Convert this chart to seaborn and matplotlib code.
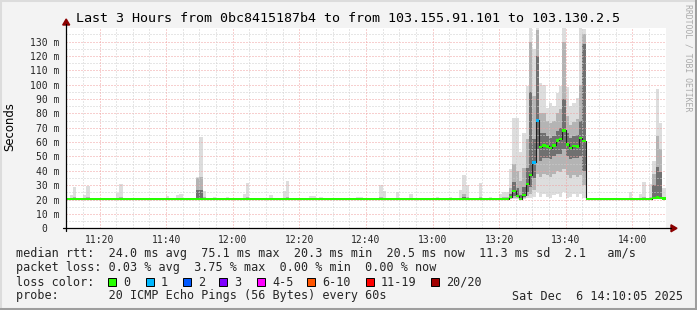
import numpy as np
import matplotlib
matplotlib.use("Agg")
import matplotlib.pyplot as plt
import seaborn as sns
from matplotlib.patches import Rectangle, Polygon
from matplotlib.lines import Line2D

# ------------------------------------------------------------------ data
title = "Last 3 Hours from 0bc8415187b4 to from 103.155.91.101 to 103.130.2.5"
n_bins = 180                      # one-minute bins, 11:10 -> 14:10
x_tick_minutes = [10, 30, 50, 70, 90, 110, 130, 150, 170]
x_tick_labels = ["11:20", "11:40", "12:00", "12:20", "12:40",
                 "13:00", "13:20", "13:40", "14:00"]
y_tick_values = [0, 10, 20, 30, 40, 50, 60, 70, 80, 90, 100, 110, 120, 130]
y_tick_labels = ["0  ", "10 m", "20 m", "30 m", "40 m", "50 m", "60 m",
                 "70 m", "80 m", "90 m", "100 m", "110 m", "120 m", "130 m"]

# quiet baseline (ms)
base_median = 20.5
base_min, base_p10, base_p25, base_p75, base_p90, base_max = 20.3, 20.4, 20.5, 20.7, 20.8, 21.0

# isolated smoke spikes in the quiet periods
spike_minute = [1, 2, 5, 6, 15, 16, 30, 33, 34, 39, 40, 41, 44, 48, 51, 53, 54, 56, 60, 61,
                65, 66, 73, 74, 76, 87, 88, 94, 95, 99, 103, 111, 115, 118, 119, 120, 124,
                127, 169, 172, 173, 175]
spike_max = [23.2, 28.5, 23.0, 29.4, 24.8, 30.6, 22.2, 23.0, 24.0, 36.0, 63.5, 26.0, 21.5,
             21.5, 21.3, 23.6, 31.5, 21.3, 21.3, 23.0, 25.7, 32.9, 22.3, 22.3, 22.0, 22.0,
             22.0, 30.0, 26.0, 25.0, 24.0, 22.0, 22.0, 27.0, 37.0, 30.0, 31.8, 21.5, 25.3,
             24.0, 32.0, 31.0]
spike_p90 = [21.0, 21.5, 21.0, 21.5, 21.0, 21.5, 21.0, 21.0, 21.0, 35.0, 36.0, 22.0, 21.0,
             21.0, 21.0, 21.0, 22.0, 21.0, 21.0, 21.0, 21.0, 22.0, 21.0, 21.0, 21.0, 21.0,
             21.0, 22.0, 21.0, 21.0, 21.0, 21.0, 21.0, 21.0, 24.0, 22.0, 22.0, 21.0, 21.0,
             21.0, 22.0, 22.0]
spike_p75 = [20.8, 20.8, 20.8, 20.8, 20.8, 20.8, 20.8, 20.8, 20.8, 27.0, 27.0, 21.0, 20.8,
             20.8, 20.8, 20.8, 21.0, 20.8, 20.8, 20.8, 20.8, 21.0, 20.8, 20.8, 20.8, 20.8,
             20.8, 21.0, 20.8, 20.8, 20.8, 20.8, 20.8, 20.8, 21.5, 21.0, 21.0, 20.8, 20.8,
             20.8, 21.0, 21.0]

# disturbed period 13:20 .. 13:46 (minutes 130..155)
busy_start = 130
busy_median = [20.5, 20.5, 20.6, 21.6, 25.9, 22.5, 20.6, 23.0, 30.8, 37.3, 45.8, 75.1, 56.5,
               57.7, 57.0, 56.1, 57.7, 61.2, 62.1, 68.1, 58.4, 55.8, 57.5, 57.0, 62.8, 60.7]
busy_min = [20.3, 20.3, 20.3, 20.4, 20.5, 20.5, 20.3, 20.5, 21.0, 21.0, 22.0, 25.0, 22.0,
            24.0, 22.0, 21.0, 23.0, 24.0, 22.0, 25.0, 21.0, 22.0, 24.0, 22.0, 24.0, 21.0]
busy_p10 = [20.4, 20.4, 20.4, 20.6, 21.0, 20.8, 20.4, 21.0, 22.5, 24.0, 27.0, 38.0, 36.0,
            38.0, 37.0, 36.0, 38.0, 40.0, 39.0, 41.0, 37.0, 35.0, 37.0, 36.0, 37.0, 30.0]
busy_p25 = [20.5, 20.5, 20.5, 21.0, 22.5, 21.5, 20.5, 21.8, 25.0, 29.0, 35.0, 55.0, 47.0,
            49.0, 49.0, 48.0, 50.0, 52.0, 52.0, 55.0, 50.0, 48.0, 49.0, 49.0, 50.0, 40.0]
busy_p75 = [20.7, 20.8, 21.0, 24.0, 32.0, 28.0, 23.0, 29.0, 42.0, 95.0, 62.0, 120.0, 66.0,
            66.0, 64.0, 63.0, 64.0, 68.0, 70.0, 90.0, 66.0, 63.0, 64.0, 65.0, 75.0, 128.0]
busy_p90 = [21.0, 21.5, 22.0, 28.0, 45.0, 40.0, 33.0, 42.0, 62.0, 130.0, 92.0, 138.0, 80.0,
            80.0, 75.0, 73.0, 75.0, 80.0, 83.0, 130.0, 78.0, 72.0, 74.0, 76.0, 100.0, 135.0]
busy_max = [24.0, 25.0, 25.0, 41.0, 77.0, 77.0, 53.0, 66.0, 99.0, 140.0, 125.0, 140.0, 101.0,
            100.0, 84.0, 87.0, 85.0, 94.0, 99.0, 140.0, 98.0, 85.0, 87.0, 91.0, 140.0, 139.0]
busy_loss = [0, 0, 0, 0, 0, 0, 0, 0, 0, 0, 1, 1, 0, 0, 0, 0, 0, 0, 0, 0, 0, 0, 0, 0, 0, 0]

# last minutes 14:06 .. 14:10 (minutes 176..179)
tail_start = 176
tail_median = [21.0, 21.5, 21.3, 20.8]
tail_min = [20.4, 20.4, 20.4, 20.3]
tail_p10 = [20.6, 20.7, 20.6, 20.4]
tail_p25 = [20.8, 21.0, 20.9, 20.5]
tail_p75 = [30.0, 43.0, 39.0, 21.0]
tail_p90 = [38.0, 64.0, 55.0, 22.0]
tail_max = [47.0, 97.0, 73.0, 28.0]

loss_labels = ["0", "1", "2", "3", "4-5", "6-10", "11-19", "20/20"]
loss_colors = ["#26ff00", "#00b8ff", "#0059ff", "#7e00ff", "#ff00ff", "#ff5500", "#ff0000", "#a10000"]

median_line = "median rtt:  24.0 ms avg  75.1 ms max  20.3 ms min  20.5 ms now  11.3 ms sd  2.1   am/s"
loss_line = "packet loss: 0.03 % avg  3.75 % max  0.00 % min  0.00 % now"
probe_line = "probe:       20 ICMP Echo Pings (56 Bytes) every 60s"
date_text = "Sat Dec  6 14:10:05 2025"

# ------------------------------------------------------------------ build series
med = np.full(n_bins, base_median)
smin = np.full(n_bins, base_min)
s10 = np.full(n_bins, base_p10)
s25 = np.full(n_bins, base_p25)
s75 = np.full(n_bins, base_p75)
s90 = np.full(n_bins, base_p90)
smax = np.full(n_bins, base_max)
loss = np.zeros(n_bins, dtype=int)
for m, mx, p9, p7 in zip(spike_minute, spike_max, spike_p90, spike_p75):
    smax[m], s90[m], s75[m] = mx, p9, p7
sl = slice(busy_start, busy_start + len(busy_median))
med[sl], smin[sl], s10[sl], s25[sl] = busy_median, busy_min, busy_p10, busy_p25
s75[sl], s90[sl], smax[sl], loss[sl] = busy_p75, busy_p90, busy_max, busy_loss
tl = slice(tail_start, tail_start + len(tail_median))
med[tl], smin[tl], s10[tl], s25[tl] = tail_median, tail_min, tail_p10, tail_p25
s75[tl], s90[tl], smax[tl] = tail_p75, tail_p90, tail_max

# ------------------------------------------------------------------ style
sns.set_style("white")
plt.rcParams["font.family"] = ["DejaVu Sans Mono", "DejaVu Sans"]
plt.rcParams["lines.scale_dashes"] = False

W, H = 697, 310
fig = plt.figure(figsize=(W / 100, H / 100), dpi=100)
fig.patch.set_facecolor("#f3f3f3")

def fx(px):
    return px / W

def fy(py):
    return 1 - py / H

x0, x1, ytop, ybot = 66.2, 665.6, 28.0, 228.3
ax = fig.add_axes([fx(x0), fy(ybot), (x1 - x0) / W, (ybot - ytop) / H])
ax.set_facecolor("white")
ax.set_xlim(0, n_bins)
ax.set_ylim(0, 139.4)

xe = np.arange(n_bins + 1)

def ext(a):
    return np.append(a, a[-1])

ax.fill_between(xe, ext(smin), ext(smax), step="post", color="#dddddd", lw=0, zorder=1)
ax.fill_between(xe, ext(s10), ext(s90), step="post", color="#b4b4b4", lw=0, zorder=1.1)
ax.fill_between(xe, ext(s25), ext(s75), step="post", color="#707070", lw=0, zorder=1.2)

# grid
dot = (0, (0.72, 1.44))
for v in range(5, 140, 5):
    major = v % 10 == 0
    ax.axhline(v, color="#f0a0a0" if major else "#cfcfcf", lw=0.72, ls=dot, zorder=3)
for t in range(0, n_bins + 1, 5):
    major = (t - 10) % 20 == 0
    ax.axvline(t, color="#f0a0a0" if major else "#cfcfcf", lw=0.72, ls=dot, zorder=3)

# median line and loss-coloured median band
sns.lineplot(x=xe, y=ext(med), drawstyle="steps-post", color="#202020", lw=0.8,
             ax=ax, zorder=4, sort=False)
sw = 0.8
ax.fill_between(xe, ext(med - sw), ext(med + sw), step="post",
                color=loss_colors[0], lw=0, zorder=5)
lossy = loss > 0
ax.bar(np.arange(n_bins)[lossy], 2 * sw * 1.3, bottom=med[lossy] - sw * 1.3, width=1,
       align="edge", color=[loss_colors[l] for l in loss[lossy]], lw=0, zorder=6)

ax.set_xlabel("")
ax.set_ylabel("")
for s in ax.spines.values():
    s.set_visible(False)
ax.set_xticks(x_tick_minutes)
ax.set_xticklabels(x_tick_labels)
ax.set_yticks(y_tick_values)
ax.set_yticklabels(y_tick_labels)
ax.tick_params(axis="both", labelsize=7, length=1.5, width=0.7, color="#555555",
               direction="out")
ax.tick_params(axis="x", pad=3.2)
ax.tick_params(axis="y", pad=3.5)

# axes with arrows
fig.add_artist(Line2D([fx(63), fx(671)], [fy(ybot), fy(ybot)], color="black", lw=0.9,
                      transform=fig.transFigure))
fig.add_artist(Line2D([fx(x0), fx(x0)], [fy(231), fy(24)], color="black", lw=0.9,
                      transform=fig.transFigure))
arrow_c = "#8b0000"
fig.add_artist(Polygon([[fx(671), fy(ybot - 3.5)], [fx(677), fy(ybot)], [fx(671), fy(ybot + 3.5)]],
                       closed=True, color=arrow_c, transform=fig.transFigure))
fig.add_artist(Polygon([[fx(x0 - 3.5), fy(25)], [fx(x0), fy(19)], [fx(x0 + 3.5), fy(25)]],
                       closed=True, color=arrow_c, transform=fig.transFigure))

# texts
fig.text(fx(347.5), fy(19), title, ha="center", va="center", fontsize=9.6,
         family="DejaVu Sans Mono", color="black")
fig.text(fx(10), fy(127), "Seconds", rotation=90, ha="center", va="center",
         fontsize=8.4, family="DejaVu Sans", color="black")
fig.text(fx(688), fy(4), "RRDTOOL / TOBI OETIKER", rotation=270, ha="center", va="top",
         fontsize=5.9, family="DejaVu Sans Mono", color="#aaaaaa")

leg_fs = 8.5
fig.text(fx(16), fy(254), median_line, ha="left", va="center", fontsize=leg_fs)
fig.text(fx(16), fy(268), loss_line, ha="left", va="center", fontsize=leg_fs)
fig.text(fx(16), fy(282), "loss color:", ha="left", va="center", fontsize=leg_fs)
fig.text(fx(16), fy(296), probe_line, ha="left", va="center", fontsize=leg_fs)
fig.text(fx(683), fy(296), date_text, ha="right", va="center", fontsize=leg_fs)

sq_x = [108, 146, 183, 219, 257, 307, 366, 431]
for sx, lab, col in zip(sq_x, loss_labels, loss_colors):
    fig.add_artist(Rectangle((fx(sx), fy(286)), 8 / W, 8 / H, transform=fig.transFigure,
                             facecolor=col, edgecolor="black", lw=0.7))
    fig.text(fx(sx + 15), fy(282), lab, ha="left", va="center", fontsize=leg_fs)

# frame shading
fig.add_artist(Line2D([0, 1], [fy(0.7), fy(0.7)], color="#dcdcdc", lw=1.5, transform=fig.transFigure))
fig.add_artist(Line2D([fx(0.7), fx(0.7)], [0, 1], color="#dcdcdc", lw=1.5, transform=fig.transFigure))
fig.add_artist(Line2D([0, 1], [fy(308.8), fy(308.8)], color="#9e9e9e", lw=2.2, transform=fig.transFigure))
fig.add_artist(Line2D([fx(695.8), fx(695.8)], [0, 1], color="#9e9e9e", lw=2.2, transform=fig.transFigure))

fig.savefig("out.png", dpi=100, facecolor=fig.get_facecolor())
